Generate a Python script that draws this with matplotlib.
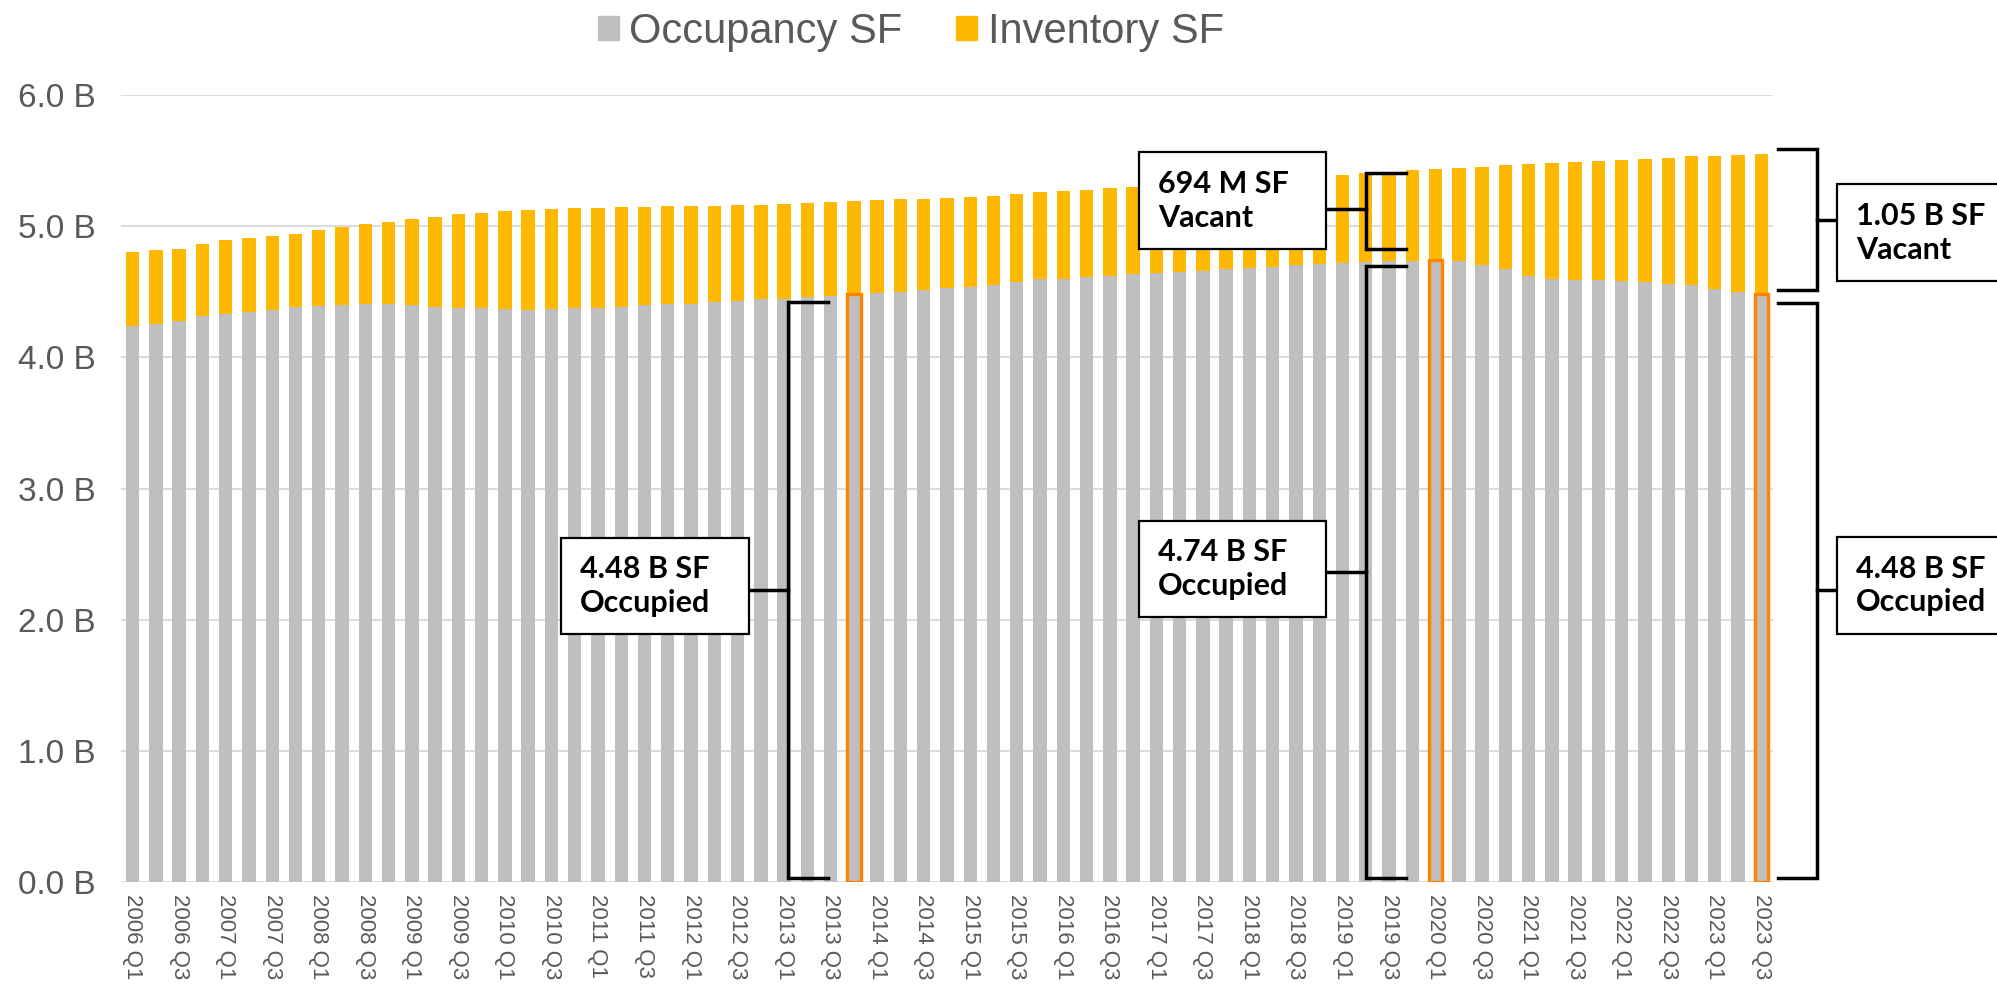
import matplotlib
matplotlib.use("Agg")
import matplotlib.pyplot as plt
from matplotlib.patches import Patch, Rectangle

plt.rcParams['font.family'] = ['Liberation Sans', 'DejaVu Sans']

# Quarterly series, 2006 Q1 .. 2023 Q3 (billions of SF)
years = list(range(2006, 2024))
quarters = [f"{y} Q{q}" for y in years for q in (1, 2, 3, 4)][:71]

inventory = [4.802, 4.815, 4.827, 4.865, 4.893, 4.909, 4.924, 4.944, 4.970, 4.992,
             5.013, 5.033, 5.053, 5.071, 5.091, 5.104, 5.117, 5.124, 5.129, 5.137,
             5.142, 5.147, 5.147, 5.152, 5.155, 5.157, 5.162, 5.165, 5.170, 5.175,
             5.183, 5.190, 5.198, 5.206, 5.208, 5.216, 5.223, 5.231, 5.244, 5.259,
             5.266, 5.277, 5.292, 5.299, 5.310, 5.320, 5.330, 5.340, 5.350, 5.360,
             5.370, 5.380, 5.391, 5.404, 5.414, 5.426, 5.434, 5.442, 5.454, 5.464,
             5.475, 5.485, 5.492, 5.500, 5.508, 5.513, 5.520, 5.533, 5.536, 5.543,
             5.551]

occupancy = [4.239, 4.254, 4.277, 4.317, 4.330, 4.348, 4.363, 4.383, 4.393, 4.401,
             4.406, 4.409, 4.398, 4.386, 4.378, 4.376, 4.368, 4.363, 4.368, 4.376,
             4.378, 4.383, 4.396, 4.406, 4.409, 4.419, 4.429, 4.442, 4.447, 4.457,
             4.467, 4.480, 4.487, 4.497, 4.513, 4.530, 4.538, 4.553, 4.574, 4.596,
             4.599, 4.612, 4.624, 4.637, 4.642, 4.650, 4.660, 4.673, 4.683, 4.690,
             4.703, 4.711, 4.718, 4.726, 4.734, 4.738, 4.741, 4.734, 4.706, 4.673,
             4.624, 4.596, 4.589, 4.589, 4.581, 4.571, 4.558, 4.551, 4.520, 4.497,
             4.480]

highlight = ["2013 Q4", "2020 Q1", "2023 Q3"]

yticks = [0, 1, 2, 3, 4, 5, 6]
ytick_labels = ["0.0 B", "1.0 B", "2.0 B", "3.0 B", "4.0 B", "5.0 B", "6.0 B"]

# callouts: text, box (x0, x1, y0, y1), connector y, bracket x, tick end x, bracket y range
callouts = [
    ("4.48 B SF\nOccupied", (18.42, 26.48, 1.887, 2.626), 2.225, 28.15, 29.87, (0.03, 4.42)),
    ("694 M SF\nVacant", (43.25, 51.31, 4.823, 5.564), 5.13, 53.0, 54.72, (4.828, 5.404)),
    ("4.74 B SF\nOccupied", (43.25, 51.31, 2.017, 2.753), 2.362, 53.0, 54.72, (0.03, 4.698)),
    ("1.05 B SF\nVacant", (73.25, 81.3, 4.579, 5.32), 5.05, 72.39, 70.73, (4.516, 5.585)),
    ("4.48 B SF\nOccupied", (73.25, 81.3, 1.89, 2.63), 2.225, 72.39, 70.73, (0.03, 4.417)),
]

GRAY = '#BFBFBF'
GOLD = '#FFB800'
ORANGE = '#FF8200'
TXT = '#595959'

fig = plt.figure(figsize=(19.97, 9.88), dpi=100)
ax = fig.add_axes([0.0606, 0.1073, 0.8272, 0.7965])

x = list(range(len(quarters)))
ax.bar(x, inventory, width=0.575, color=GOLD, zorder=2)
ax.bar(x, occupancy, width=0.575, color=GRAY, zorder=3)

for q in highlight:
    i = quarters.index(q)
    ax.bar(i, occupancy[i], width=0.575, color=GRAY, edgecolor=ORANGE,
           linewidth=2.4, zorder=4)

ax.set_xlim(-0.5, 70.5)
ax.set_ylim(0, 6.0)
ax.set_yticks(yticks)
ax.set_yticklabels(ytick_labels, fontsize=24, color=TXT)
ax.set_xticks(x[::2])
ax.set_xticklabels(quarters[::2], rotation=270, fontsize=16, color=TXT,
                   ha='center', va='top')
ax.tick_params(axis='both', length=0)
ax.tick_params(axis='y', pad=18)
ax.tick_params(axis='x', pad=9)
ax.grid(axis='y', color='#D9D9D9', linewidth=1.3)
ax.set_axisbelow(True)
for s in ax.spines.values():
    s.set_visible(False)

for text, (x0, x1, y0, y1), cy, bx, tx, (b0, b1) in callouts:
    ax.plot([tx, bx, bx, tx], [b1, b1, b0, b0], color='black', linewidth=2.5,
            solid_joinstyle='miter', clip_on=False, zorder=6)
    near = x1 if bx > x1 else x0
    ax.plot([near, bx], [cy, cy], color='black', linewidth=2.5,
            clip_on=False, zorder=6)
    ax.add_patch(Rectangle((x0, y0), x1 - x0, y1 - y0, facecolor='white',
                           edgecolor='black', linewidth=1.6, clip_on=False, zorder=7))
    ax.text(x0 + 0.82, (y0 + y1) / 2, text, ha='left', va='center',
            fontsize=22, fontweight='bold', family=['Lato', 'DejaVu Sans'],
            linespacing=1.25, color='black', clip_on=False, zorder=8)

fig.legend(handles=[Patch(color=GRAY, label='Occupancy SF'),
                    Patch(color=GOLD, label='Inventory SF')],
           loc='center', bbox_to_anchor=(0.456, 0.968), ncol=2, frameon=False,
           fontsize=30, handlelength=0.5, handleheight=0.5, handletextpad=0.25,
           columnspacing=1.3, labelcolor=TXT)

fig.savefig('out.png', dpi=100)
